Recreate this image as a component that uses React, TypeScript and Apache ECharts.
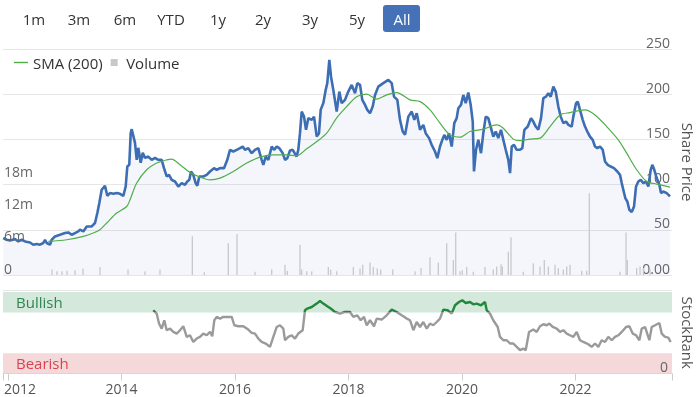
import React, { useEffect, useRef } from "react";
import * as echarts from "echarts";

// ---------- data ----------
const rangeButtons = ["1m", "3m", "6m", "YTD", "1y", "2y", "3y", "5y", "All"];
const axisStartYear = 2011.912;
const axisEndYear = 2023.7;

// [decimal year, share price]
const priceData: [number, number][] = [
  [2011.917, 40.9], [2011.977, 39.0], [2012.035, 38.2], [2012.123, 39.8], [2012.181, 37.1],
  [2012.241, 39.0], [2012.3, 37.1], [2012.388, 36.0], [2012.446, 33.5], [2012.506, 34.3],
  [2012.564, 33.5], [2012.622, 35.4], [2012.652, 39.0], [2012.682, 35.4], [2012.74, 33.5],
  [2012.77, 39.0], [2012.828, 42.7], [2012.916, 44.5], [2013.004, 46.4], [2013.063, 47.1],
  [2013.122, 44.5], [2013.181, 46.4], [2013.239, 48.2], [2013.269, 50.1], [2013.327, 48.2],
  [2013.387, 53.7], [2013.475, 53.7], [2013.533, 57.5], [2013.574, 68.5], [2013.609, 79.6],
  [2013.651, 94.3], [2013.709, 98.7], [2013.75, 87.6], [2013.797, 90.6], [2013.856, 89.8],
  [2013.915, 90.6], [2013.974, 89.8], [2014.032, 87.6], [2014.074, 97.9], [2014.102, 120.0],
  [2014.137, 121.9], [2014.162, 156.9], [2014.18, 161.3], [2014.238, 146.2], [2014.268, 127.4],
  [2014.296, 140.7], [2014.338, 124.1], [2014.374, 135.1], [2014.414, 129.6], [2014.472, 131.0],
  [2014.532, 127.4], [2014.59, 129.6], [2014.648, 127.4], [2014.708, 127.4], [2014.749, 118.2],
  [2014.796, 109.0], [2014.837, 110.8], [2014.885, 105.3], [2014.943, 103.4], [2015.001, 97.9],
  [2015.061, 101.7], [2015.119, 99.8], [2015.159, 103.4], [2015.195, 105.3], [2015.225, 114.5],
  [2015.265, 110.8], [2015.307, 101.7], [2015.336, 98.7], [2015.371, 109.0], [2015.441, 109.0],
  [2015.501, 110.8], [2015.559, 114.5], [2015.63, 118.2], [2015.678, 116.4], [2015.736, 118.2],
  [2015.806, 118.2], [2015.864, 127.4], [2015.912, 138.5], [2015.97, 136.6], [2016.03, 138.5],
  [2016.088, 140.3], [2016.136, 142.1], [2016.176, 138.5], [2016.234, 140.3], [2016.294, 134.8],
  [2016.352, 138.5], [2016.411, 140.3], [2016.47, 127.4], [2016.499, 121.9], [2016.541, 131.0],
  [2016.587, 127.4], [2016.647, 142.1], [2016.687, 138.5], [2016.735, 142.1], [2016.781, 140.3],
  [2016.84, 134.8], [2016.881, 127.4], [2016.922, 129.3], [2016.969, 137.7], [2017.017, 138.5],
  [2017.087, 131.0], [2017.115, 138.5], [2017.145, 156.9], [2017.175, 180.8], [2017.216, 175.2],
  [2017.251, 160.6], [2017.292, 173.5], [2017.352, 171.6], [2017.392, 175.2], [2017.44, 153.1],
  [2017.48, 156.9], [2017.51, 182.7], [2017.556, 190.1], [2017.598, 204.8], [2017.626, 212.2],
  [2017.662, 237.9], [2017.692, 219.4], [2017.732, 204.8], [2017.792, 180.8], [2017.838, 202.9],
  [2017.88, 190.1], [2017.938, 193.7], [2017.996, 202.9], [2018.056, 210.3], [2018.115, 201.1],
  [2018.155, 212.2], [2018.203, 210.3], [2018.243, 193.7], [2018.291, 188.2], [2018.331, 182.7],
  [2018.379, 179.0], [2018.426, 186.3], [2018.467, 199.2], [2018.525, 208.4], [2018.613, 212.2],
  [2018.701, 215.8], [2018.761, 212.2], [2018.802, 197.3], [2018.86, 193.7], [2018.907, 171.6],
  [2018.955, 158.7], [2018.996, 155.0], [2019.054, 175.2], [2019.114, 180.8], [2019.16, 171.6],
  [2019.202, 179.0], [2019.26, 160.6], [2019.318, 166.1], [2019.36, 156.9], [2019.419, 151.4],
  [2019.466, 144.0], [2019.524, 136.6], [2019.565, 129.3], [2019.612, 142.1], [2019.653, 149.5],
  [2019.688, 155.0], [2019.73, 149.5], [2019.771, 156.9], [2019.818, 142.1], [2019.864, 168.0],
  [2019.906, 173.5], [2019.935, 184.5], [2019.982, 188.2], [2020.023, 199.2], [2020.065, 190.1],
  [2020.111, 201.8], [2020.153, 188.2], [2020.189, 169.7], [2020.211, 114.5], [2020.247, 138.5],
  [2020.287, 149.5], [2020.335, 134.8], [2020.375, 156.9], [2020.418, 175.2], [2020.463, 173.5],
  [2020.511, 162.4], [2020.551, 153.1], [2020.594, 158.7], [2020.639, 151.4], [2020.687, 160.6],
  [2020.728, 149.5], [2020.77, 138.5], [2020.816, 127.4], [2020.846, 112.7], [2020.876, 142.1],
  [2020.916, 144.0], [2020.964, 138.5], [2021.022, 138.5], [2021.063, 140.3], [2021.098, 160.6],
  [2021.158, 164.2], [2021.216, 173.5], [2021.256, 169.7], [2021.299, 164.2], [2021.344, 160.6],
  [2021.392, 173.5], [2021.433, 195.6], [2021.48, 197.3], [2021.521, 201.1], [2021.563, 197.3],
  [2021.609, 208.4], [2021.651, 202.9], [2021.697, 186.3], [2021.739, 175.2], [2021.785, 168.0],
  [2021.833, 169.7], [2021.873, 166.1], [2021.933, 164.2], [2021.961, 175.2], [2022.009, 190.1],
  [2022.039, 191.8], [2022.079, 182.7], [2022.127, 171.6], [2022.167, 164.2], [2022.208, 158.7],
  [2022.255, 153.1], [2022.303, 149.5], [2022.343, 142.1], [2022.384, 140.3], [2022.432, 142.1],
  [2022.479, 138.5], [2022.52, 125.5], [2022.567, 121.9], [2022.62, 120.0], [2022.678, 118.2],
  [2022.737, 114.5], [2022.784, 110.8], [2022.814, 101.7], [2022.842, 94.3], [2022.877, 85.1],
  [2022.913, 81.3], [2022.948, 72.2], [2022.99, 69.6], [2023.031, 75.8], [2023.066, 97.9],
  [2023.107, 103.4], [2023.149, 105.3], [2023.195, 101.7], [2023.242, 103.4], [2023.283, 97.9],
  [2023.325, 116.4], [2023.353, 121.9], [2023.388, 116.4], [2023.431, 107.2], [2023.477, 99.8],
  [2023.507, 90.6], [2023.547, 92.4], [2023.607, 90.6], [2023.665, 86.9],
];

// [decimal year, 200-day SMA]
const smaData: [number, number][] = [
  [2012.71, 37.1], [2013.034, 39.0], [2013.327, 42.7], [2013.503, 46.4], [2013.621, 50.1],
  [2013.739, 57.5], [2013.915, 68.5], [2014.092, 75.8], [2014.15, 83.2], [2014.268, 101.7],
  [2014.444, 116.4], [2014.62, 123.8], [2014.796, 127.4], [2014.885, 128.2], [2015.031, 121.9],
  [2015.207, 113.4], [2015.383, 108.3], [2015.559, 105.3], [2015.736, 107.2], [2015.97, 114.5],
  [2016.206, 123.8], [2016.441, 130.4], [2016.675, 132.9], [2016.911, 132.9], [2017.087, 131.8],
  [2017.263, 139.6], [2017.44, 147.6], [2017.616, 156.9], [2017.792, 173.8], [2017.968, 186.3],
  [2018.144, 197.3], [2018.321, 200.0], [2018.497, 194.5], [2018.673, 199.2], [2018.849, 201.8],
  [2019.084, 193.7], [2019.26, 191.8], [2019.436, 182.7], [2019.612, 168.0], [2019.789, 155.0],
  [2019.965, 152.5], [2020.141, 158.7], [2020.375, 161.3], [2020.611, 166.1], [2020.728, 162.4],
  [2020.904, 150.3], [2021.022, 148.7], [2021.198, 150.3], [2021.374, 151.4], [2021.551, 164.2],
  [2021.727, 177.1], [2021.903, 179.7], [2022.167, 182.7], [2022.344, 177.1], [2022.55, 164.2],
  [2022.754, 149.5], [2022.902, 134.8], [2023.078, 116.4], [2023.255, 103.4], [2023.431, 100.6],
  [2023.665, 97.2],
];

// [decimal year, volume in millions]
const volumeData: [number, number][] = [
  [2012.775, 1.0], [2012.863, 0.7], [2012.952, 0.7], [2013.04, 0.8], [2013.181, 0.9],
  [2013.322, 1.2], [2013.621, 1.5], [2014.115, 1.0], [2014.414, 0.7], [2014.678, 1.0],
  [2015.248, 7.2], [2015.459, 0.5], [2015.882, 5.9], [2016.035, 7.6], [2016.352, 0.6],
  [2016.647, 1.0], [2016.881, 1.9], [2016.922, 0.8], [2017.145, 5.6], [2017.175, 1.0],
  [2017.263, 0.7], [2017.352, 0.7], [2017.644, 1.5], [2017.686, 1.0], [2017.792, 0.7],
  [2018.085, 1.5], [2018.203, 1.2], [2018.25, 1.9], [2018.379, 2.3], [2018.437, 1.5],
  [2018.507, 1.2], [2018.567, 1.0], [2018.779, 1.0], [2019.172, 0.7], [2019.278, 1.3],
  [2019.436, 3.3], [2019.582, 2.3], [2019.73, 5.9], [2019.847, 2.8], [2019.889, 7.9],
  [2019.965, 0.7], [2020.005, 0.9], [2020.083, 1.5], [2020.199, 0.6], [2020.405, 1.5],
  [2020.551, 1.0], [2020.611, 1.6], [2020.687, 2.0], [2020.71, 1.6], [2020.816, 4.3],
  [2020.863, 7.0], [2021.08, 0.6], [2021.256, 2.2], [2021.374, 1.6], [2021.45, 2.8],
  [2021.521, 1.6], [2021.639, 1.9], [2021.697, 1.3], [2021.785, 1.0], [2021.845, 1.6],
  [2021.903, 1.9], [2022.109, 0.8], [2022.197, 0.8], [2022.243, 15.2], [2022.784, 0.6],
  [2022.89, 7.9], [2022.913, 2.8], [2023.078, 1.3], [2023.137, 1.6], [2023.195, 1.3],
  [2023.313, 1.0],
];

// [decimal year, StockRank]
const stockRankData: [number, number][] = [
  [2014.56, 77.6], [2014.62, 73.5], [2014.661, 61.3], [2014.708, 55.1], [2014.754, 65.3],
  [2014.796, 53.1], [2014.855, 55.1], [2014.913, 51.0], [2014.973, 49.0], [2015.031, 53.1],
  [2015.089, 58.0], [2015.149, 44.9], [2015.207, 46.9], [2015.265, 38.7], [2015.325, 42.9],
  [2015.383, 44.9], [2015.441, 49.0], [2015.501, 46.9], [2015.559, 51.0], [2015.6, 45.7],
  [2015.635, 65.3], [2015.678, 69.4], [2015.736, 67.4], [2015.794, 69.4], [2015.882, 69.4],
  [2015.942, 69.4], [2015.988, 59.2], [2016.058, 58.0], [2016.146, 58.0], [2016.234, 53.9],
  [2016.294, 49.8], [2016.352, 49.0], [2016.411, 42.9], [2016.47, 38.7], [2016.541, 36.8],
  [2016.617, 32.6], [2016.675, 44.9], [2016.735, 57.1], [2016.793, 59.2], [2016.851, 55.1],
  [2016.881, 40.8], [2016.939, 44.9], [2016.999, 46.9], [2017.057, 42.9], [2017.115, 49.0],
  [2017.193, 53.1], [2017.233, 77.6], [2017.274, 79.7], [2017.352, 81.6], [2017.44, 85.8],
  [2017.498, 89.0], [2017.556, 85.8], [2017.626, 82.5], [2017.686, 79.7], [2017.762, 75.5],
  [2017.85, 73.5], [2017.938, 75.5], [2018.026, 75.5], [2018.085, 69.4], [2018.155, 71.4],
  [2018.215, 65.3], [2018.273, 69.4], [2018.321, 59.2], [2018.379, 65.3], [2018.449, 58.0],
  [2018.497, 67.4], [2018.585, 66.2], [2018.673, 71.4], [2018.761, 78.4], [2018.849, 75.5],
  [2018.937, 71.4], [2019.026, 67.4], [2019.084, 65.3], [2019.143, 53.1], [2019.202, 63.2],
  [2019.26, 57.1], [2019.318, 63.2], [2019.378, 55.1], [2019.436, 61.3], [2019.494, 59.2],
  [2019.554, 63.2], [2019.612, 67.4], [2019.671, 78.4], [2019.748, 77.6], [2019.818, 73.5],
  [2019.877, 83.7], [2019.947, 87.7], [2020.005, 89.8], [2020.065, 86.5], [2020.141, 87.7],
  [2020.199, 84.9], [2020.259, 85.8], [2020.335, 83.7], [2020.405, 87.7], [2020.435, 77.6],
  [2020.493, 73.5], [2020.551, 65.3], [2020.629, 57.1], [2020.67, 44.9], [2020.728, 40.8],
  [2020.788, 40.8], [2020.846, 36.8], [2020.904, 36.8], [2020.964, 32.6], [2021.022, 28.6],
  [2021.08, 30.6], [2021.122, 28.6], [2021.181, 51.0], [2021.256, 53.9], [2021.316, 51.0],
  [2021.374, 58.0], [2021.433, 60.4], [2021.493, 59.2], [2021.539, 61.3], [2021.598, 57.1],
  [2021.669, 55.1], [2021.727, 51.0], [2021.785, 53.1], [2021.845, 49.0], [2021.903, 46.9],
  [2021.961, 44.9], [2022.021, 51.0], [2022.079, 40.8], [2022.137, 38.7], [2022.226, 35.9],
  [2022.285, 32.6], [2022.344, 36.8], [2022.402, 32.6], [2022.46, 40.8], [2022.52, 38.7],
  [2022.578, 44.9], [2022.638, 40.8], [2022.696, 44.9], [2022.754, 46.9], [2022.814, 51.0],
  [2022.89, 57.1], [2022.948, 58.0], [2023.008, 49.0], [2023.066, 46.9], [2023.125, 40.8],
  [2023.167, 55.1], [2023.225, 57.1], [2023.301, 40.8], [2023.343, 57.1], [2023.401, 59.2],
  [2023.477, 62.0], [2023.519, 49.0], [2023.577, 44.9], [2023.635, 44.1], [2023.677, 38.7],
];

const bullishFrom = 75;
const bearishTo = 25;

const FONT = '"Open Sans", "Noto Sans", sans-serif';
const GREEN = "#1f8a3c";
const GREY = "#9a9a9a";

export default function App() {
  const ref = useRef<HTMLDivElement>(null);

  useEffect(() => {
    if (!ref.current) return;
    const chart = echarts.init(ref.current, undefined, { renderer: "svg" });

    const buttonCenters = [34, 79, 125, 171, 218, 263, 310, 357, 402];
    const graphic: any[] = [
      {
        type: "rect",
        shape: { x: 383, y: 5, width: 37, height: 27, r: 3 },
        style: { fill: "#4471b7" },
      },
      ...rangeButtons.map((t, i) => ({
        type: "text",
        x: buttonCenters[i],
        y: 19,
        style: {
          text: t,
          font: `15px ${FONT}`,
          fill: t === "All" ? "#ffffff" : "#333333",
          align: "center",
          verticalAlign: "middle",
        },
      })),
    ];

    const yearLabel = (v: number) => {
      const y = Math.round(v);
      if (Math.abs(v - y) > 1e-6 || y % 2 !== 0) return "";
      return y === 2012 ? "{first|2012}" : String(y);
    };

    // StockRank colour switch at the Bullish threshold (gradient over the line's own extent)
    const srVals = stockRankData.map((d) => d[1]);
    const srMax = Math.max(...srVals);
    const srMin = Math.min(...srVals);
    const t = (srMax - bullishFrom) / (srMax - srMin);
    const srColor = new echarts.graphic.LinearGradient(0, 0, 0, 1, [
      { offset: 0, color: GREEN },
      { offset: t, color: GREEN },
      { offset: t, color: GREY },
      { offset: 1, color: GREY },
    ]);

    const option: any = {
      animation: false,
      textStyle: { fontFamily: FONT },
      graphic,
      legend: {
        left: 9,
        top: 50,
        itemWidth: 14,
        itemHeight: 7,
        itemGap: 8,
        textStyle: { fontSize: 15, color: "#333333", fontFamily: FONT },
        data: [
          { name: "SMA (200)", icon: "path://M0,0H20V2H0Z" },
          { name: "Volume", icon: "path://M0,0H10V10H0Z" },
        ],
      },
      grid: [
        { left: 3, right: 26, top: 49, height: 226, outerBoundsMode: "none", containLabel: false },
        { left: 3, right: 26, top: 292, height: 81.5, outerBoundsMode: "none", containLabel: false },
      ],
      xAxis: [
        { type: "value", gridIndex: 0, min: axisStartYear, max: axisEndYear, show: false },
        {
          type: "value",
          gridIndex: 1,
          min: axisStartYear,
          max: axisEndYear,
          splitNumber: 6,
          axisLine: { show: true, lineStyle: { color: "#cccccc" } },
          axisTick: {
            show: true,
            length: 7,
            lineStyle: { color: "#cccccc" },
          },
          axisLabel: {
            color: "#555555",
            fontSize: 14,
            lineHeight: 14,
            margin: 8,
            fontFamily: FONT,
            formatter: yearLabel,
            rich: {
              first: {
                padding: [0, 0, 0, 24],
                fontSize: 14,
                lineHeight: 14,
                color: "#555555",
                fontFamily: FONT,
              },
            },
          },
          splitLine: { show: false },
        },
        {
          type: "value",
          gridIndex: 1,
          min: axisStartYear,
          max: axisEndYear,
          position: "top",
          offset: 2,
          axisLine: { show: true, lineStyle: { color: "#e6e6e6" } },
          axisTick: { show: false },
          axisLabel: { show: false },
          splitLine: { show: false },
        },
      ],
      yAxis: [
        {
          type: "value",
          gridIndex: 0,
          position: "right",
          min: 0,
          max: 250,
          interval: 50,
          axisLine: { show: false },
          axisTick: { show: false },
          splitLine: { lineStyle: { color: "#e6e6e6" } },
          axisLabel: {
            inside: true,
            margin: 2,
            showMinLabel: true,
            showMaxLabel: true,
            hideOverlap: false,
            verticalAlign: "bottom",
            color: "#666666",
            fontSize: 14,
            fontFamily: FONT,
            formatter: (v: number) => (v === 0 ? "0.00" : String(v)),
          },
          name: "Share Price",
          nameLocation: "middle",
          nameRotate: -90,
          nameGap: 6,
          nameTextStyle: { fontSize: 15, color: "#555555", fontFamily: FONT },
        },
        {
          type: "value",
          gridIndex: 0,
          position: "left",
          min: 0,
          max: 42e6,
          interval: 6e6,
          z: 10,
          axisLine: { show: false },
          axisTick: { show: false },
          splitLine: { show: false },
          axisLabel: {
            inside: true,
            margin: 1,
            showMinLabel: true,
            hideOverlap: false,
            verticalAlign: "bottom",
            color: "#666666",
            fontSize: 14,
            fontFamily: FONT,
            formatter: (v: number) =>
              v === 0 ? "0" : v <= 18e6 ? `${Math.round(v / 1e6)}m` : "",
          },
        },
        {
          type: "value",
          gridIndex: 1,
          position: "right",
          min: 0,
          max: 100,
          interval: 25,
          z: 10,
          axisLine: { show: false },
          axisTick: { show: false },
          splitLine: { show: false },
          axisLabel: {
            inside: true,
            margin: 4,
            showMinLabel: true,
            hideOverlap: false,
            verticalAlign: "bottom",
            color: "#666666",
            fontSize: 14,
            fontFamily: FONT,
            formatter: (v: number) => (v === 0 ? "0" : ""),
          },
          name: "StockRank",
          nameLocation: "middle",
          nameRotate: -90,
          nameGap: 6,
          nameTextStyle: { fontSize: 15, color: "#555555", fontFamily: FONT },
        },
      ],
      series: [
        {
          name: "Price",
          type: "line",
          xAxisIndex: 0,
          yAxisIndex: 0,
          data: priceData,
          showSymbol: false,
          symbol: "none",
          lineStyle: { color: "#3d6eb4", width: 2.6 },
          itemStyle: { color: "#3d6eb4" },
          areaStyle: { color: "rgba(61,110,180,0.06)", opacity: 1 },
          z: 3,
        },
        {
          name: "Volume",
          type: "bar",
          xAxisIndex: 0,
          yAxisIndex: 1,
          data: volumeData.map(([y, v]) => [y, v * 1e6]),
          barWidth: 1.3,
          itemStyle: { color: "#c8c8cc" },
          z: 4,
        },
        {
          name: "SMA (200)",
          type: "line",
          xAxisIndex: 0,
          yAxisIndex: 0,
          data: smaData,
          showSymbol: false,
          symbol: "none",
          smooth: 0.3,
          lineStyle: { color: "#4fae4a", width: 1.2 },
          itemStyle: { color: "#4fae4a" },
          z: 5,
        },
        {
          name: "StockRank",
          type: "line",
          xAxisIndex: 1,
          yAxisIndex: 2,
          data: stockRankData,
          showSymbol: false,
          symbol: "none",
          lineStyle: { width: 2.4, color: srColor },
          z: 5,
          markArea: {
            silent: true,
            data: [
              [
                {
                  name: "Bullish",
                  xAxis: axisStartYear,
                  yAxis: bullishFrom,
                  itemStyle: { color: "#d4e8dc" },
                  label: {
                    show: true,
                    position: "insideLeft",
                    offset: [8, 0],
                    color: "#2f8552",
                    fontSize: 15,
                    fontFamily: FONT,
                  },
                },
                { xAxis: axisEndYear, yAxis: 100 },
              ],
              [
                {
                  name: "Bearish",
                  xAxis: axisStartYear,
                  yAxis: 0,
                  itemStyle: { color: "#f5d9da" },
                  label: {
                    show: true,
                    position: "insideLeft",
                    offset: [8, 0],
                    color: "#d9444f",
                    fontSize: 15,
                    fontFamily: FONT,
                  },
                },
                { xAxis: axisEndYear, yAxis: bearishTo },
              ],
            ],
          },
        },
      ],
    };

    chart.setOption(option);
    return () => chart.dispose();
  }, []);

  return (
    <div
      ref={ref}
      style={{ position: "fixed", left: 0, top: 0, width: 698, height: 397 }}
    />
  );
}
